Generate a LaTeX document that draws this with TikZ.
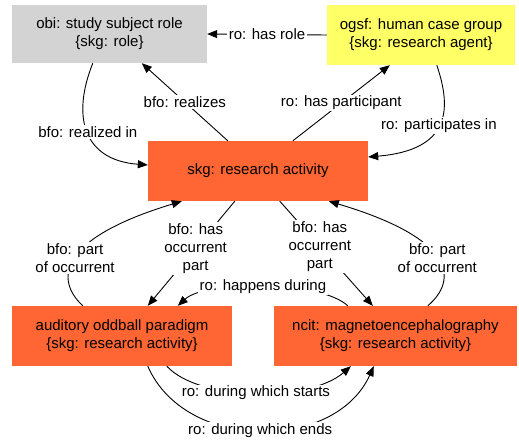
\documentclass[tikz,border=0pt]{standalone}
\usepackage{fontspec}
\setmainfont{Liberation Sans}
\usetikzlibrary{arrows.meta}
\definecolor{rolegray}{HTML}{D3D3D3}
\definecolor{agentyellow}{HTML}{FFFF66}
\definecolor{activityorange}{HTML}{FF6633}

\begin{document}
\begin{tikzpicture}[x=1pt, y=-1pt, >={Triangle[length=10pt,width=8pt]},
	every node/.style={font=\fontsize{15}{18}\selectfont, align=center},
	box/.style={minimum width=#1, minimum height=60pt, inner sep=0pt},
	rel/.style={fill=white, inner sep=1.5pt},
	link/.style={line width=0.9pt, ->}]
\useasboundingbox (0,0) rectangle (519,441);
% boxes
\node[box=195pt, minimum height=58pt, fill=rolegray] (obi) at (109.5,34) {obi: study subject role\\\{skg: role\}};
\node[box=188pt, fill=agentyellow] (ogsf) at (421,35) {ogsf: human case group\\\{skg: research agent\}};
\node[box=220pt, fill=activityorange] (act) at (258,171) {skg: research activity};
\node[box=220pt, fill=activityorange] (aud) at (122,336) {auditory oddball paradigm\\\{skg: research activity\}};
\node[box=243pt, fill=activityorange] (ncit) at (395.5,336) {ncit: magnetoencephalography\\\{skg: research activity\}};
% upper relations
\draw[link] (ogsf.west) -- node[rel] {ro: has role} (obi.east);
\draw[link] ([xshift=80pt]act.north west) -- node[rel] {bfo: realizes} ([xshift=130pt]obi.south west);
\draw[link] ([xshift=81pt]obi.south west) .. controls (72,115) and (82,160) .. node[rel] {bfo: realized in} ([yshift=6pt]act.west);
\draw[link] ([xshift=145pt]act.north west) -- node[rel] {ro: has participant} ([xshift=63pt]ogsf.south west);
\draw[link] ([xshift=110pt]ogsf.south west) .. controls (452,110) and (450,150) .. node[rel] {ro: participates in} ([yshift=14pt]act.east);
% parts
\draw[link] ([xshift=71pt]aud.north west) .. controls (55,280) and (57,239) .. node[rel] {bfo: part\\of occurrent} ([xshift=34pt]act.south west);
\draw[link] ([xshift=87pt]act.south west) -- node[rel, pos=0.45] {bfo: has\\occurrent\\part} ([xshift=136pt]aud.north west);
\draw[link] ([xshift=132pt]act.south west) -- node[rel, pos=0.43] {bfo: has\\occurrent\\part} ([xshift=99pt]ncit.north west);
\draw[link] ([xshift=154pt]ncit.north west) .. controls (458,280) and (456,239) .. node[rel] {bfo: part\\of occurrent} ([xshift=181pt]act.south west);
% lower relations
\draw[link] ([xshift=74pt]ncit.north west) .. controls (320,280) and (206,280) .. node[rel] {ro: happens during} ([xshift=166pt]aud.north west);
\draw[link] ([xshift=155pt]aud.south west) .. controls (200,402) and (310,402) .. node[rel] {ro: during which starts} ([xshift=77pt]ncit.south west);
\draw[link] ([xshift=136pt]aud.south west) .. controls (185,452) and (335,452) .. node[rel] {ro: during which ends} ([xshift=100pt]ncit.south west);
\end{tikzpicture}
\end{document}
